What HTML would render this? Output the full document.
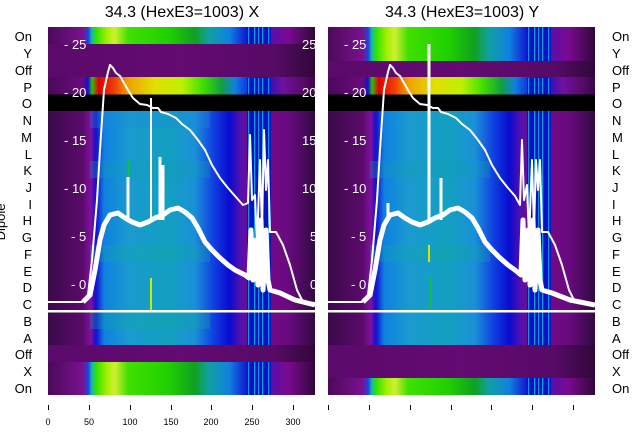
<!DOCTYPE html>
<html><head><meta charset="utf-8"><style>
body{margin:0;background:#fff;width:640px;height:440px;overflow:hidden}
svg text{font-family:"Liberation Sans","DejaVu Sans",sans-serif}
</style></head><body>
<svg width="640" height="440" viewBox="0 0 640 440" xmlns="http://www.w3.org/2000/svg">
<defs>
<linearGradient id="gG" x1="0" x2="1" y1="0" y2="0">
<stop offset="0" stop-color="#4a0a5a"/><stop offset="0.13" stop-color="#7a1090"/><stop offset="0.15" stop-color="#2040e0"/><stop offset="0.165" stop-color="#10c0a0"/><stop offset="0.18" stop-color="#30e000"/><stop offset="0.22" stop-color="#a0f000"/><stop offset="0.25" stop-color="#d0f030"/><stop offset="0.3" stop-color="#40e000"/><stop offset="0.45" stop-color="#20d000"/><stop offset="0.55" stop-color="#10a020"/><stop offset="0.6" stop-color="#10a0a0"/><stop offset="0.68" stop-color="#1080e0"/><stop offset="0.75" stop-color="#1010d0"/><stop offset="0.82" stop-color="#5010b0"/><stop offset="0.9" stop-color="#7a0a90"/><stop offset="1" stop-color="#300838"/>
</linearGradient>
<linearGradient id="gP" x1="0" x2="1" y1="0" y2="0">
<stop offset="0" stop-color="#4a0a5a"/><stop offset="0.13" stop-color="#6a0a80"/><stop offset="0.15" stop-color="#1010d0"/><stop offset="0.165" stop-color="#30c000"/><stop offset="0.19" stop-color="#e00000"/><stop offset="0.25" stop-color="#f04000"/><stop offset="0.3" stop-color="#f0a000"/><stop offset="0.4" stop-color="#e0e000"/><stop offset="0.5" stop-color="#c0f000"/><stop offset="0.58" stop-color="#40e000"/><stop offset="0.65" stop-color="#10a040"/><stop offset="0.7" stop-color="#1080e0"/><stop offset="0.76" stop-color="#1020e0"/><stop offset="0.8" stop-color="#1010c0"/><stop offset="0.88" stop-color="#7010a0"/><stop offset="0.95" stop-color="#5a0a6a"/><stop offset="1" stop-color="#3a0848"/>
</linearGradient>
<linearGradient id="gM" x1="0" x2="1" y1="0" y2="0">
<stop offset="0" stop-color="#3a0a4a"/><stop offset="0.13" stop-color="#5a0a6a"/><stop offset="0.16" stop-color="#8010a0"/><stop offset="0.18" stop-color="#1010d0"/><stop offset="0.21" stop-color="#1080e0"/><stop offset="0.3" stop-color="#1a9ad0"/><stop offset="0.45" stop-color="#12a0c0"/><stop offset="0.55" stop-color="#1a90d8"/><stop offset="0.62" stop-color="#1040e0"/><stop offset="0.68" stop-color="#0a0ad0"/><stop offset="0.72" stop-color="#5010b0"/><stop offset="0.76" stop-color="#7a0a8a"/><stop offset="0.9" stop-color="#6a0a80"/><stop offset="1" stop-color="#300a40"/>
</linearGradient>
<linearGradient id="gU" x1="0" x2="1" y1="0" y2="0">
<stop offset="0" stop-color="#5a0a6a"/><stop offset="0.5" stop-color="#640a72"/><stop offset="0.85" stop-color="#560a66"/><stop offset="1" stop-color="#300838"/>
</linearGradient>
<g id="stripes">
<rect x="247" width="24" height="1" fill="#0a10c8"/>
<rect x="248" width="1.3" height="1" fill="#1090d8"/><rect x="254" width="1.3" height="1" fill="#10a0d8"/><rect x="258" width="1.3" height="1" fill="#1090d8"/><rect x="262" width="1.3" height="1" fill="#10a0d8"/><rect x="268" width="1.3" height="1" fill="#1090d8"/>
</g>
<clipPath id="c1"><rect x="48" y="27" width="267" height="368"/></clipPath>
</defs>

<!-- LEFT PLOT -->
<g clip-path="url(#c1)">
<rect x="48" y="27" width="267" height="17" fill="url(#gG)"/>
<rect x="48" y="44" width="267" height="34" fill="url(#gU)"/>
<rect x="48" y="77" width="267" height="18" fill="url(#gP)"/>
<rect x="48" y="94.5" width="267" height="16.5" fill="#000"/>
<rect x="48" y="111" width="267" height="235" fill="url(#gM)"/>
<rect x="90" y="111" width="120" height="17" fill="#1a8ad8" opacity="0.3"/>
<rect x="90" y="161" width="120" height="17" fill="#10a0b0" opacity="0.3"/>
<rect x="90" y="245" width="120" height="17" fill="#10a8a0" opacity="0.3"/>
<rect x="90" y="312" width="120" height="17" fill="#10a8a0" opacity="0.3"/>
<rect x="48" y="345" width="267" height="17" fill="url(#gU)"/>
<rect x="48" y="362" width="267" height="33" fill="url(#gG)"/>
<use href="#stripes" transform="translate(0,27) scale(1,17)"/>
<use href="#stripes" transform="translate(0,78) scale(1,16)"/>
<use href="#stripes" transform="translate(0,111) scale(1,234)"/>
<use href="#stripes" transform="translate(0,362) scale(1,33)"/>
<rect x="128" y="160" width="2" height="18" fill="#10c040"/>
<rect x="150" y="278" width="2" height="33" fill="#c0f000"/>
<g fill="none" stroke="#fff" stroke-linejoin="round">
<path stroke-width="2" d="M48,302 L82,302 L88,295 L92,260 L97,200 L100,150 L104,90 L108,72 L110,65 L113,68 L116,73 L120,76 L124,83 L128,90 L133,98 L140,104 L147,105 L153,108 L158,108 L161,112 L168,114 L176,118 L182,124 L190,130 L198,140 L205,150 L212,165 L220,178 L228,188 L235,196 L243,205 L248,203 L250,135 L252,200 L255,195 L257,245 L260,160 L262,230 L264,130 L266,190 L268,160 L270,232 L276,232 L283,245 L290,265 L297,290 L303,302 L315,303"/>
<path stroke-width="5" d="M83,302 L90,295 L95,270 L100,240 L104,225 L110,215 L118,213 L125,218 L132,222 L140,225 L148,222 L155,218 L163,215 L170,210 L178,208 L185,212 L192,218 L198,228 L205,242 L212,250 L220,258 L228,265 L235,270 L245,275 L249,278 L251,230 L253,280 L256,240 L258,285 L261,220 L263,290 L266,230 L268,280 L270,290 L280,293 L295,300 L315,305"/>
<path stroke-width="3" d="M128,220 L128,177 M160,220 L160,157 M163,220 L163,165"/>
<path stroke-width="2" d="M151,220 L151,98"/>
</g>
<g fill="#fff" font-size="13">
<text x="64" y="49">- 25</text><text x="64" y="97">- 20</text><text x="64" y="145">- 15</text><text x="64" y="193">- 10</text><text x="71" y="241">- 5</text><text x="71" y="289">- 0</text>
<text x="302" y="49">25</text><text x="302" y="97">20</text><text x="302" y="145">15</text><text x="302" y="193">10</text><text x="310" y="241">5</text><text x="310" y="289">0</text>
</g>
</g>

<!-- RIGHT PLOT -->
<g transform="translate(280,0)">
<g clip-path="url(#c1)">
<rect x="48" y="27" width="267" height="34" fill="url(#gG)"/>
<rect x="48" y="61" width="267" height="17" fill="url(#gU)"/>
<rect x="48" y="77" width="267" height="18" fill="url(#gP)"/>
<rect x="48" y="94.5" width="267" height="16.5" fill="#000"/>
<rect x="48" y="111" width="267" height="235" fill="url(#gM)"/>
<rect x="90" y="161" width="120" height="17" fill="#10a0b0" opacity="0.3"/>
<rect x="90" y="245" width="120" height="17" fill="#10a8a0" opacity="0.3"/>
<rect x="48" y="345" width="267" height="34" fill="url(#gU)"/>
<rect x="48" y="378" width="267" height="17" fill="url(#gG)"/>
<use href="#stripes" transform="translate(0,27) scale(1,34)"/>
<use href="#stripes" transform="translate(0,78) scale(1,16)"/>
<use href="#stripes" transform="translate(0,111) scale(1,234)"/>
<use href="#stripes" transform="translate(0,378) scale(1,17)"/>
<rect x="148" y="245" width="2" height="17" fill="#e0e000"/>
<rect x="150" y="278" width="2" height="33" fill="#10c040"/>
<g fill="none" stroke="#fff" stroke-linejoin="round">
<path stroke-width="2" d="M48,302 L82,302 L88,295 L92,260 L97,200 L100,150 L104,90 L108,72 L110,65 L113,68 L116,73 L120,76 L124,83 L128,90 L133,98 L140,104 L147,105 L153,108 L158,108 L161,112 L168,114 L176,118 L182,124 L190,130 L198,140 L205,150 L212,165 L220,178 L228,188 L235,196 L240,205 L242,140 L244,200 L247,185 L249,240 L252,160 L254,230 L256,160 L258,190 L260,160 L262,232 L268,232 L275,245 L282,265 L289,290 L295,302 L315,305"/>
<path stroke-width="5" d="M83,302 L90,295 L95,270 L100,240 L104,225 L110,215 L118,213 L125,218 L132,222 L140,225 L148,222 L155,218 L163,215 L170,210 L178,208 L185,212 L192,218 L198,228 L205,242 L212,250 L220,258 L228,265 L235,270 L241,275 L243,220 L245,280 L248,230 L250,285 L253,220 L255,290 L258,230 L260,280 L262,290 L272,293 L290,300 L315,305"/>
<path stroke-width="3" d="M149,220 L149,44 M161,220 L161,178 M108,220 L108,203"/>
</g>
<g fill="#fff" font-size="13">
<text x="64" y="49">- 25</text><text x="64" y="97">- 20</text><text x="64" y="145">- 15</text><text x="64" y="193">- 10</text><text x="71" y="241">- 5</text><text x="71" y="289">- 0</text>
</g>
</g>
</g>

<rect x="48" y="310" width="547" height="2.5" fill="#fff"/>

<g font-size="16" fill="#000" text-anchor="middle">
<text x="182" y="17">34.3 (HexE3=1003) X</text>
<text x="462" y="17">34.3 (HexE3=1003) Y</text>
</g>
<g font-size="13" fill="#000">
<g text-anchor="end">
<text x="32" y="41">On</text><text x="32" y="58">Y</text><text x="32" y="75">Off</text><text x="32" y="92">P</text><text x="32" y="108">O</text><text x="32" y="125">N</text><text x="32" y="142">M</text><text x="32" y="159">L</text><text x="32" y="175">K</text><text x="32" y="192">J</text><text x="32" y="209">I</text><text x="32" y="225">H</text><text x="32" y="242">G</text><text x="32" y="259">F</text><text x="32" y="276">E</text><text x="32" y="292">D</text><text x="32" y="309">C</text><text x="32" y="326">B</text><text x="32" y="343">A</text><text x="32" y="359">Off</text><text x="32" y="376">X</text><text x="32" y="393">On</text>
</g>
<g>
<text x="612" y="41">On</text><text x="612" y="58">Y</text><text x="612" y="75">Off</text><text x="612" y="92">P</text><text x="612" y="108">O</text><text x="612" y="125">N</text><text x="612" y="142">M</text><text x="612" y="159">L</text><text x="612" y="175">K</text><text x="612" y="192">J</text><text x="612" y="209">I</text><text x="612" y="225">H</text><text x="612" y="242">G</text><text x="612" y="259">F</text><text x="612" y="276">E</text><text x="612" y="292">D</text><text x="612" y="309">C</text><text x="612" y="326">B</text><text x="612" y="343">A</text><text x="612" y="359">Off</text><text x="612" y="376">X</text><text x="612" y="393">On</text>
</g>
<text transform="translate(5,222) rotate(-90)" text-anchor="middle" font-size="13">Dipole</text>
</g>
<g stroke="#000" stroke-width="1">
<path d="M48.5,405v5M89.5,405v5M130.5,405v5M171.5,405v5M211.5,405v5M252.5,405v5M293.5,405v5"/>
<path d="M328.5,405v5M369.5,405v5M410.5,405v5M451.5,405v5M491.5,405v5M532.5,405v5M573.5,405v5"/>
</g>
<g font-size="9" fill="#000" text-anchor="middle">
<text x="48" y="425">0</text><text x="89" y="425">50</text><text x="130" y="425">100</text><text x="171" y="425">150</text><text x="211" y="425">200</text><text x="252" y="425">250</text><text x="293" y="425">300</text>
</g>
</svg>
</body></html>
